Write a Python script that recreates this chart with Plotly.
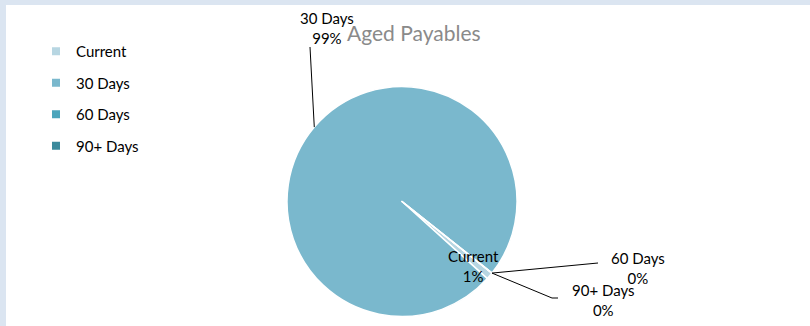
import math
import plotly.graph_objects as go

# Aged payables breakdown
categories = ["Current", "30 Days", "60 Days", "90+ Days"]
values = [1, 99, 0, 0]
colors = ["#b7d6e2", "#7ab8cd", "#4ba5bc", "#3b8a9c"]

W, H = 810, 326
FONT = "Lato"
START_ANGLE = 128.5  # clockwise from 12 o'clock, where the first slice begins

# pie geometry in pixels
CX, CY, R = 402, 201.5, 115


def px_x(x):
    return x / W


def px_y(y):
    return 1 - y / H


def edge_point(angle_deg):
    a = math.radians(angle_deg)
    return CX + R * math.sin(a), CY - R * math.cos(a)


total = sum(values)
pcts = [round(v / total * 100) for v in values]

# start / mid angles of each slice
starts, mids = [], []
acc = START_ANGLE
for v in values:
    span = v / total * 360
    starts.append(acc)
    mids.append(acc + span / 2)
    acc += span

fig = go.Figure()

fig.add_trace(go.Pie(
    labels=categories,
    values=values,
    sort=False,
    direction="clockwise",
    rotation=START_ANGLE,
    marker=dict(colors=colors, line=dict(color="white", width=1.5)),
    textinfo="none",
    hoverinfo="label+percent",
    showlegend=False,
    domain=dict(x=[px_x(CX - R), px_x(CX + R)], y=[px_y(CY + R), px_y(CY - R)]),
))

# legend entries
for name, col in zip(categories, colors):
    fig.add_trace(go.Scatter(
        x=[None], y=[None], mode="markers", name=name,
        legendgroup=name,
        marker=dict(symbol="square", size=8, color=col),
    ))

# data labels with leader lines
label_pos = {
    "Current": (473, 266, None),
    "30 Days": (327, 28, [(310, 47)]),
    "60 Days": (638, 268, [(598, 263)]),
    "90+ Days": (603, 300, [(552, 298), (558, 298)]),
}

annotations = []
shapes = [dict(type="rect", xref="paper", yref="paper",
               x0=px_x(6), x1=1, y0=0, y1=px_y(5),
               fillcolor="white", line=dict(width=0), layer="below")]

for i, name in enumerate(categories):
    tx, ty, leader = label_pos[name]
    annotations.append(dict(
        x=px_x(tx), y=px_y(ty), xref="paper", yref="paper",
        text=f"{name}<br>{pcts[i]}%", showarrow=False, align="center",
        xanchor="center", yanchor="middle",
        font=dict(family=FONT, size=15, color="black"),
    ))
    if leader:
        ang = mids[i] if values[i] > 0 else starts[i]
        ex, ey = edge_point(ang)
        pts = [(ex, ey)] + leader
        path = "M " + " L ".join(f"{px_x(x)},{px_y(y)}" for x, y in pts)
        shapes.append(dict(type="path", xref="paper", yref="paper", path=path,
                           line=dict(color="black", width=1)))

annotations.append(dict(
    x=px_x(414), y=px_y(33), xref="paper", yref="paper",
    text="Aged Payables", showarrow=False, xanchor="center", yanchor="middle",
    font=dict(family=FONT, size=21, color="#8a8a8a"),
))

fig.update_layout(
    width=W, height=H,
    margin=dict(l=0, r=0, t=0, b=0),
    paper_bgcolor="#dbe5f1",
    plot_bgcolor="rgba(0,0,0,0)",
    xaxis=dict(visible=False),
    yaxis=dict(visible=False),
    shapes=shapes,
    annotations=annotations,
    legend=dict(
        x=px_x(36), y=px_y(35), xanchor="left", yanchor="top",
        font=dict(family=FONT, size=15, color="black"),
        bgcolor="rgba(0,0,0,0)", tracegroupgap=9,
        itemwidth=30,
    ),
)

fig.write_html("out.html")
